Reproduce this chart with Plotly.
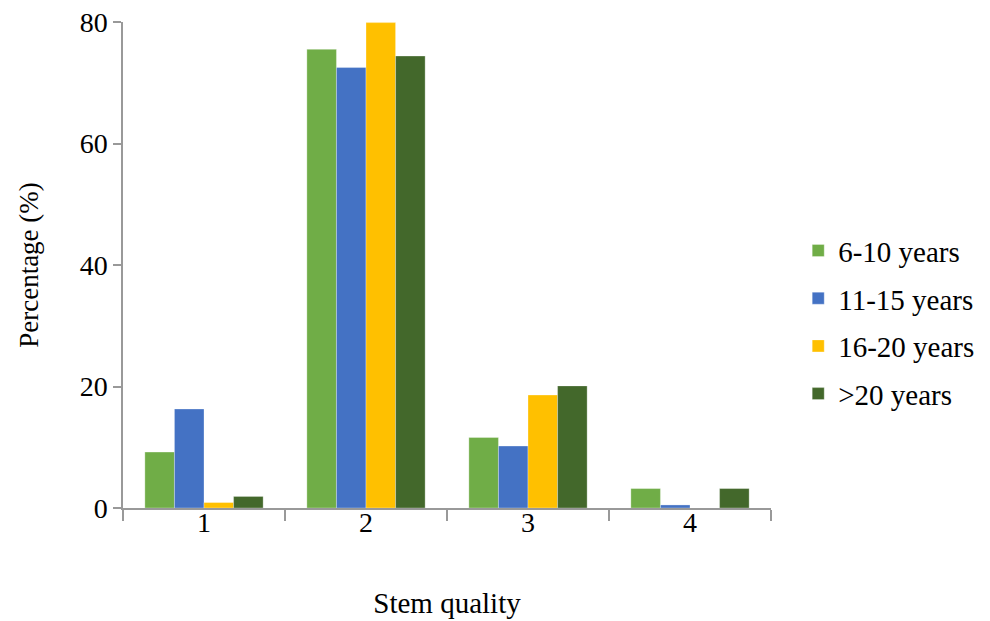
import plotly.graph_objects as go

categories = ["1", "2", "3", "4"]
series_names = ["6-10 years", "11-15 years", "16-20 years", ">20 years"]
v_6_10 = [9.2, 75.5, 11.6, 3.2]
v_11_15 = [16.3, 72.5, 10.2, 0.5]
v_16_20 = [0.9, 79.9, 18.6, 0.0]
v_over20 = [1.9, 74.4, 20.1, 3.2]
colors = ["#70AD47", "#4472C4", "#FFC000", "#43682B"]

font_family = "Liberation Serif, Times New Roman, serif"

fig = go.Figure()
for i, (name, vals) in enumerate(zip(series_names, [v_6_10, v_11_15, v_16_20, v_over20])):
    fig.add_trace(go.Bar(
        x=categories, y=vals, name=name,
        marker=dict(color=colors[i], line=dict(color="rgba(255,255,255,0.5)", width=0.6)),
        legendgroup=name,
    ))

fig.update_layout(
    width=990, height=621,
    paper_bgcolor="white", plot_bgcolor="white",
    margin=dict(l=115, r=227, t=14, b=121),
    barmode="group", bargap=0.27, bargroupgap=0,
    font=dict(family=font_family, size=28, color="black"),
    showlegend=True,
    legend=dict(
        x=1.042, y=0.582, xanchor="left", yanchor="top",
        traceorder="grouped", tracegroupgap=7,
        font=dict(family=font_family, size=29, color="black"),
        itemwidth=30,
    ),
    xaxis=dict(
        title=dict(text="Stem quality", font=dict(size=29), standoff=55),
        showline=True, linecolor="#999999", linewidth=1.5,
        ticks="outside", tickson="boundaries", ticklen=11, tickcolor="#999999", tickwidth=1.5,
        tickfont=dict(size=28), ticklabelstandoff=-11,
        showgrid=False, automargin=False,
    ),
    yaxis=dict(
        title=dict(text="Percentage (%)", font=dict(size=27), standoff=33),
        range=[0, 80], tickvals=[0, 20, 40, 60, 80],
        showline=True, linecolor="#999999", linewidth=1.5,
        ticks="outside", ticklen=8, tickcolor="#999999", tickwidth=1.5,
        tickfont=dict(size=28), ticklabeloverflow="allow",
        showgrid=False, zeroline=False, automargin=False,
    ),
)

fig.write_html("out.html")
